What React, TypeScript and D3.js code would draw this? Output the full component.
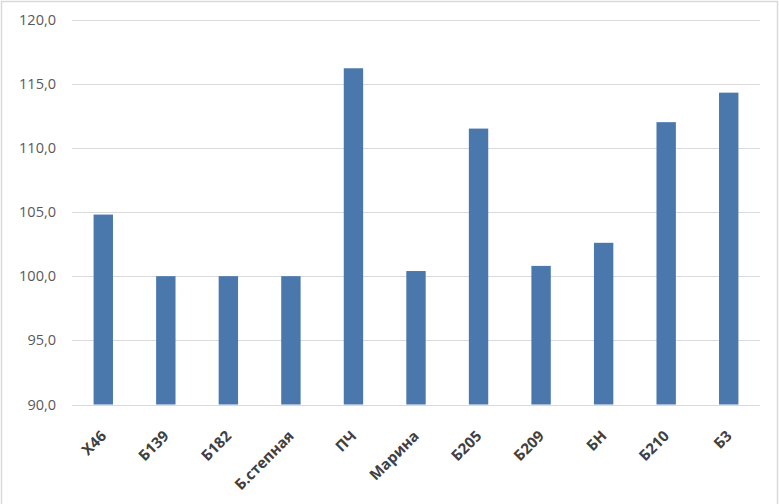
import React from "react";
import * as d3 from "d3";

const categories = ["Х46", "Б139", "Б182", "Б.степная", "ПЧ", "Марина", "Б205", "Б209", "БН", "Б210", "Б3"];
const values = [104.8, 100.0, 100.0, 100.0, 116.2, 100.4, 111.5, 100.8, 102.6, 112.0, 114.3];
const yTicks = [90, 95, 100, 105, 110, 115, 120];

const W = 779;
const H = 504;
const plot = { left: 72, right: 760, top: 19.5, bottom: 404.5 };

export default function App() {
  const x = d3.scaleBand<string>().domain(categories).range([plot.left, plot.right]).paddingInner(0.69).paddingOuter(0.345);
  const y = d3.scaleLinear().domain([90, 120]).range([plot.bottom, plot.top]);
  const fmt = (v: number) => d3.format(".1f")(v).replace(".", ",");
  return (
    <div style={{ position: "fixed", left: 0, top: 0, width: W, height: H, background: "#fff" }}>
      <svg width={W} height={H} style={{ display: "block" }}>
        <rect x={0} y={0} width={W} height={H} fill="#fff" />
        <rect x={1.5} y={1.5} width={W - 3} height={H + 20} fill="none" stroke="#d9d9d9" strokeWidth={1.5} />
        {yTicks.map((t) => (
          <g key={t}>
            <line x1={plot.left} x2={plot.right} y1={Math.round(y(t)) + 0.5} y2={Math.round(y(t)) + 0.5} stroke="#d9d9d9" strokeWidth={1.2} />
            <text x={56} y={y(t)} dy="0.35em" textAnchor="end" fontFamily="'Open Sans', sans-serif" fontSize={14.5} fill="#595959">
              {fmt(t)}
            </text>
          </g>
        ))}
        {categories.map((c, i) => (
          <rect key={c} x={x(c)} y={y(values[i])} width={x.bandwidth()} height={y(90) - y(values[i])} fill="#4a78ad" />
        ))}
        {categories.map((c) => {
          const cx = (x(c) as number) + x.bandwidth() / 2;
          return (
            <text
              key={c}
              transform={`translate(${cx + 4},${437}) rotate(-45)`}
              textAnchor="end"
              fontFamily="'Open Sans', sans-serif"
              fontWeight="bold"
              fontSize={15}
              fill="#404040"
            >
              {c}
            </text>
          );
        })}
      </svg>
    </div>
  );
}
